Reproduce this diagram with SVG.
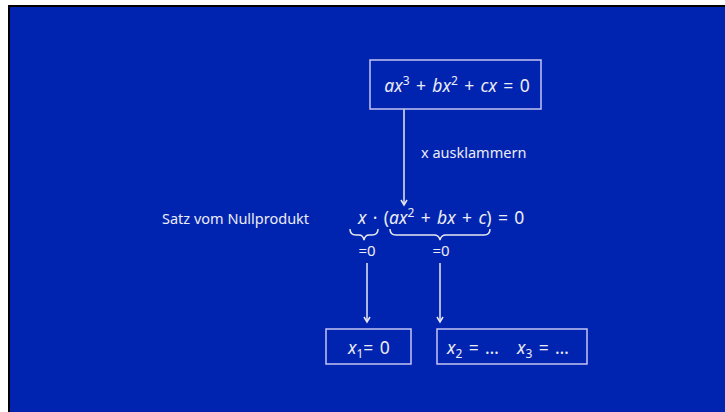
<svg xmlns="http://www.w3.org/2000/svg" width="725" height="412" viewBox="0 0 725 412">
<defs>
<style>
.t{font-family:"Noto Sans","Open Sans",sans-serif;fill:#ececf4;}
.m{font-family:"Noto Sans","Open Sans",sans-serif;fill:#ececf4;font-size:17.5px;word-spacing:1.8px;}
.i{font-style:italic;}
.box{fill:none;stroke:#c4c4f4;stroke-width:1.5;}
.ln{stroke:#e8e8f0;stroke-width:1.5;fill:none;}
</style>
<marker id="ah" markerWidth="8" markerHeight="8" refX="6" refY="4" orient="auto" markerUnits="userSpaceOnUse">
<path d="M1,1 L6,4 L1,7" fill="none" stroke="#e8e8f0" stroke-width="1.5"/>
</marker>
</defs>
<rect x="0" y="0" width="725" height="412" fill="#ffffff"/>
<rect x="8" y="5" width="717" height="407" fill="#000000"/>
<rect x="10" y="7" width="715" height="405" fill="#0124B0"/>
<g id="connectors">
<line class="ln" x1="404" y1="109" x2="404" y2="205" marker-end="url(#ah)"/>
<line class="ln" x1="367" y1="263" x2="367" y2="322" marker-end="url(#ah)"/>
<line class="ln" x1="440" y1="263" x2="440" y2="322" marker-end="url(#ah)"/>
<text class="t" x="421" y="158" font-size="14.5">x ausklammern</text>
</g>
<g id="start">
<rect class="box" x="370" y="60" width="171" height="49"/>
<text class="m" x="457" y="92" text-anchor="middle"><tspan class="i">ax</tspan><tspan font-size="12" dy="-7">3</tspan><tspan dy="7"> + </tspan><tspan class="i">bx</tspan><tspan font-size="12" dy="-7">2</tspan><tspan dy="7"> + </tspan><tspan class="i">cx</tspan> = 0</text>
</g>
<g id="label">
<text class="t" x="162" y="224" font-size="14.5">Satz vom Nullprodukt</text>
</g>
<g id="product">
<text class="m" x="358" y="224"><tspan class="i">x</tspan> · (<tspan class="i">ax</tspan><tspan font-size="12" dy="-7">2</tspan><tspan dy="7"> + </tspan><tspan class="i">bx</tspan> + <tspan class="i">c</tspan>) = 0</text>
<path class="ln" stroke-width="1" d="M350,229 Q350,235 356,235 L359,235 Q363,235 364,240 Q365,235 369,235 L372,235 Q378,235 378,229"/>
<path class="ln" stroke-width="1" d="M390,229 Q390,235 396,235 L434,235 Q439,235 440,240 Q441,235 446,235 L484,235 Q490,235 490,229"/>
<text class="t" x="367" y="256" font-size="15" text-anchor="middle">=0</text>
<text class="t" x="441" y="256" font-size="15" text-anchor="middle">=0</text>
</g>
<g id="result1">
<rect class="box" x="326" y="329" width="85" height="35"/>
<text class="m" x="348" y="354"><tspan class="i">x</tspan><tspan font-size="12" dy="4">1</tspan><tspan dy="-4">= 0</tspan></text>
</g>
<g id="result2">
<rect class="box" x="437" y="329" width="150" height="35"/>
<text class="m" x="447" y="354"><tspan class="i">x</tspan><tspan font-size="12" dy="4">2</tspan><tspan dy="-4"> = …</tspan></text>
<text class="m" x="517" y="354"><tspan class="i">x</tspan><tspan font-size="12" dy="4">3</tspan><tspan dy="-4"> = …</tspan></text>
</g>
</svg>
